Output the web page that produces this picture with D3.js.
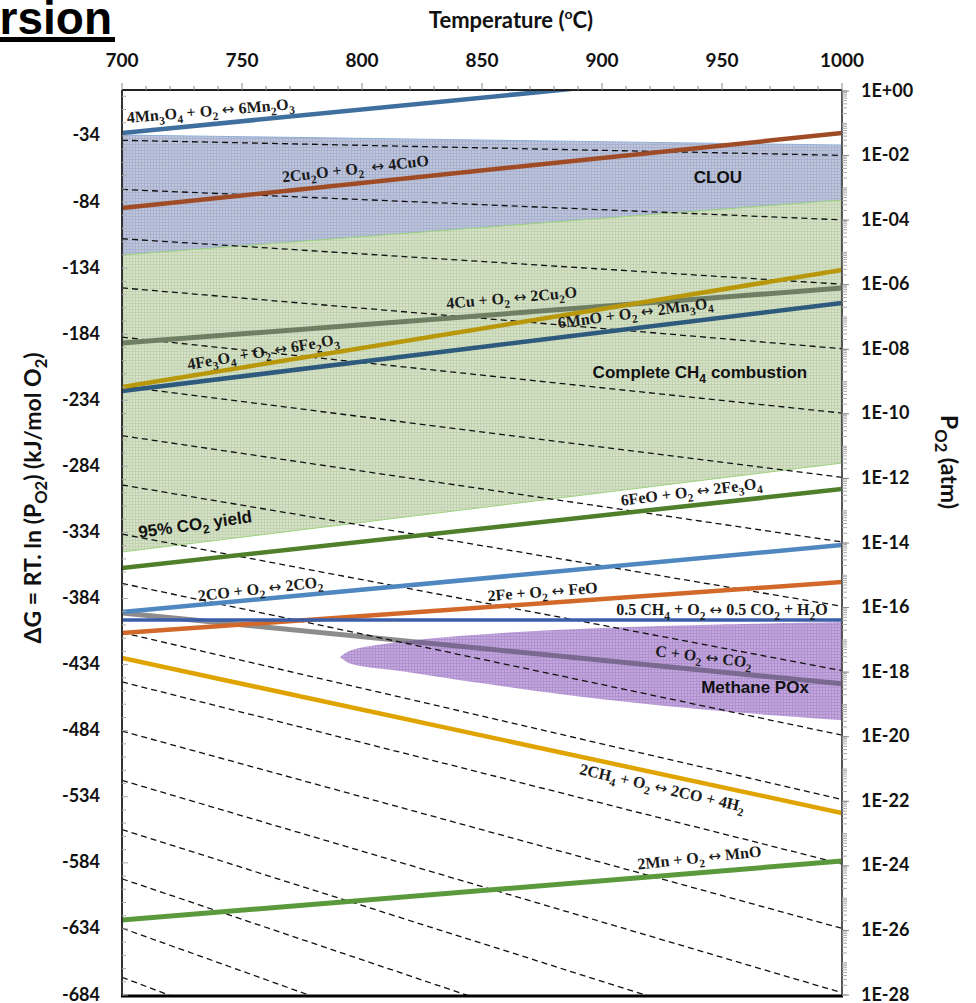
<!DOCTYPE html>
<html><head><meta charset="utf-8">
<script src="https://cdn.jsdelivr.net/npm/d3@7"></script>
<style>body{margin:0;background:#fff}text{white-space:pre}</style>
</head><body><svg id="c" width="976" height="1003"></svg>
<script>
// ---------- DATA ----------
const temps = [700, 1000];
const tempTicks = [700, 750, 800, 850, 900, 950, 1000];
const dGTicks = [-34, -84, -134, -184, -234, -284, -334, -384, -434, -484, -534, -584, -634, -684];
const pO2TickExp = [0, -2, -4, -6, -8, -10, -12, -14, -16, -18, -20, -22, -24, -26, -28];

// iso-P(O2) dashed lines: dG (kJ/mol O2) at 700 and 1000 C
const isobarExp = [-2, -4, -6, -8, -10, -12, -14, -16, -18, -20, -22, -24, -26, -28, -30, -32, -34, -36];
const isobarAt700 = [-37.3, -74.5, -111.8, -149.0, -186.3, -223.5, -260.8, -298.1, -335.3, -372.6, -409.8, -447.1, -484.3, -521.6, -558.8, -596.1, -633.4, -670.6];
const isobarAt1000 = [-48.7, -97.5, -146.2, -195.0, -243.7, -292.4, -341.2, -389.9, -438.6, -487.4, -536.1, -584.8, -633.6, -682.3, -731.1, -779.8, -828.6, -877.3];

// reaction lines: dG at 700 and 1000 C
const reactionNames = [
  "4Mn{3}O{4} + O{2} ↔ 6Mn{2}O{3}",
  "2Cu{2}O + O{2}  ↔ 4CuO",
  "4Cu + O{2} ↔ 2Cu{2}O",
  "6MnO + O{2} ↔ 2Mn{3}O{4}",
  "4Fe{3}O{4} + O{2} ↔ 6Fe{2}O{3}",
  "6FeO + O{2} ↔ 2Fe{3}O{4}",
  "2CO + O{2} ↔ 2CO{2}",
  "2Fe + O{2} ↔ FeO",
  "0.5 CH{4} + O{2} ↔ 0.5 CO{2} + H{2}O",
  "C + O{2} ↔ CO{2}",
  "2CH{4} + O{2} ↔ 2CO + 4H{2}",
  "2Mn + O{2} ↔ MnO"
];
const reactionAt700  = [-31.8, -88.5, -190.7, -227.0, -224.0, -360.9, -394.2, -410.1, -400.3, -394.9, -429.0, -627.3];
const reactionAt1000 = [ 21.7, -31.8, -149.1, -160.4, -135.4, -301.2, -343.5, -371.5, -400.3, -448.6, -546.3, -582.6];

// shaded regions
const clouUpper = [-33.3, -40.9];
const clouLower = [-124.1, -82.5];
const combUpper = [-124.1, -82.5];
const combLower = [-348.8, -281.5];
const poxT     = [790.8, 795, 815.8, 849.2, 899.2, 949.2, 1000];
const poxUpper = [-428.3, -423.5, -416.8, -411.2, -406.4, -403.7, -401.8];
const poxLower = [-428.3, -433.2, -438.9, -448.0, -460.1, -469.2, -476.0];

const regionNames = ["CLOU", "Complete CH{4} combustion", "Methane POx", "95% CO{2} yield"];

// ---------- STYLE / LAYOUT ----------
const reactionColors = ["#3f6f9f", "#9e4b26", "#6f7f63", "#2e5a7e", "#b8970a", "#4f7f2a", "#4f88c0", "#d2692a", "#3b5ea8", "#8c8c8c", "#e0a400", "#5a9a3c"];
const reactionWidths = [4.5, 4.5, 5, 4.5, 4.5, 4.5, 4.5, 4.5, 3.5, 5, 4.5, 5];
const reactionLabelPos = [[737.1, -18.9, -4.8], [797.5, -62.8, -6.5], [862.5, -160.4, -5], [914.2, -171.8, -7.5],
  [759.2, -201.3, -9.5], [937.5, -307.2, -7], [757.9, -380.6, -6.5], [875.4, -382.9, -4.3],
  [950, -396.5, 0], [942.1, -432.0, 7], [924.6, -531.2, 13], [940.8, -584.1, -6]];
const regionLabelPos = [[948.3, -69.6, 0], [940.8, -217.2, 0], [963.75, -455.5, 0], [730.8, -332.2, -8]];

const M = {l: 122, r: 842, t: 90, b: 996};
const svg = d3.select("#c");
const x = d3.scaleLinear().domain([700, 1000]).range([M.l, M.r]);
const y = d3.scaleLinear().domain([-684, 0]).range([995, 91]);
const yP = d3.scaleLog().domain([1e-28, 1]).range([995, 91]);

const defs = svg.append("defs");
defs.append("clipPath").attr("id", "plot").append("rect")
  .attr("x", M.l).attr("y", M.t).attr("width", M.r - M.l).attr("height", M.b - M.t);
function pattern(id, base, line) {
  const p = defs.append("pattern").attr("id", id).attr("patternUnits", "userSpaceOnUse").attr("width", 3).attr("height", 3);
  p.append("rect").attr("width", 3).attr("height", 3).attr("fill", base);
  p.append("path").attr("d", "M0,0.5H3M0.5,0V3").attr("stroke", line).attr("stroke-width", 1);
}
pattern("pBlue", "#c0c7dd", "#a8b1ce");
pattern("pGreen", "#d7e3c9", "#c3d3b1");
pattern("pPurple", "#c4a8dd", "#b091d0");

function rich(sel, str, size) {
  const parts = str.split(/(\{[^}]*\}|↔)/).filter(s => s.length);
  let sub = false;
  parts.forEach(p => {
    if (p[0] === "{") {
      sel.append("tspan").text(p.slice(1, -1)).attr("font-size", size * 0.72).attr("dy", size * 0.28);
      sub = true;
    } else {
      const t = sel.append("tspan").text(p).attr("dy", sub ? -size * 0.28 : 0);
      if (p === "↔") t.attr("font-family", "DejaVu Sans, sans-serif").attr("font-weight", "normal").attr("font-size", size * 0.95);
      sub = false;
    }
  });
}

const g = svg.append("g").attr("clip-path", "url(#plot)");

// regions
const band = (up, lo) => d3.area().x((d, i) => x(temps[i])).y0((d, i) => y(lo[i])).y1((d, i) => y(up[i]))(temps);
g.append("path").attr("d", band(clouUpper, clouLower)).attr("fill", "url(#pBlue)").attr("stroke", "#8fb0d8").attr("stroke-width", 1);
g.append("path").attr("d", band(combUpper, combLower)).attr("fill", "url(#pGreen)").attr("stroke", "#9ed27e").attr("stroke-width", 1);

const seg = (a, b) => d3.line()([[x(temps[0]), y(a)], [x(temps[1]), y(b)]]);

// C + O2 line below the POx fill
const cIdx = 9;
g.append("path").attr("d", seg(reactionAt700[cIdx], reactionAt1000[cIdx]))
  .attr("stroke", reactionColors[cIdx]).attr("stroke-width", reactionWidths[cIdx]).attr("fill", "none");

// POx region
const poxArea = d3.area().curve(d3.curveCatmullRom)
  .x((d, i) => x(poxT[i])).y0((d, i) => y(poxLower[i])).y1((d, i) => y(poxUpper[i]));
const poxD = poxArea(poxT);
defs.append("clipPath").attr("id", "poxClip").append("path").attr("d", poxD);
g.append("path").attr("d", poxD).attr("fill", "url(#pPurple)");
g.append("path").attr("d", seg(reactionAt700[cIdx], reactionAt1000[cIdx])).attr("clip-path", "url(#poxClip)")
  .attr("stroke", "#7a6a92").attr("stroke-width", reactionWidths[cIdx]).attr("fill", "none");

// isobars
isobarExp.forEach((e, i) => {
  g.append("path").attr("d", seg(isobarAt700[i], isobarAt1000[i]))
    .attr("stroke", "#111").attr("stroke-width", 1.3).attr("stroke-dasharray", "6,4").attr("fill", "none");
});

// reaction lines
reactionNames.forEach((n, i) => {
  if (i === cIdx) return;
  g.append("path").attr("d", seg(reactionAt700[i], reactionAt1000[i]))
    .attr("stroke", reactionColors[i]).attr("stroke-width", reactionWidths[i]).attr("fill", "none");
});

// reaction labels
reactionNames.forEach((n, i) => {
  const [t, v, a] = reactionLabelPos[i];
  const tx = svg.append("text").attr("transform", `translate(${x(t)},${y(v)}) rotate(${a})`)
    .attr("text-anchor", "middle").attr("font-family", "Liberation Serif, serif").attr("font-weight", "bold")
    .attr("font-size", 16).attr("fill", "#1a1a1a");
  rich(tx, n, 16);
});

// region labels
regionNames.forEach((n, i) => {
  const [t, v, a] = regionLabelPos[i];
  const tx = svg.append("text").attr("transform", `translate(${x(t)},${y(v)}) rotate(${a})`)
    .attr("text-anchor", "middle").attr("dy", 6).attr("font-family", "Liberation Sans, Arial, sans-serif").attr("font-weight", "bold")
    .attr("font-size", 17).attr("fill", "#111");
  rich(tx, n, 17);
});

// plot border
svg.append("line").attr("x1", M.l).attr("x2", M.r).attr("y1", M.t).attr("y2", M.t).attr("stroke", "#222").attr("stroke-width", 2);
svg.append("line").attr("x1", M.l).attr("x2", M.l).attr("y1", M.t).attr("y2", M.b).attr("stroke", "#333").attr("stroke-width", 2);
svg.append("line").attr("x1", M.r).attr("x2", M.r).attr("y1", M.t).attr("y2", M.b).attr("stroke", "#555").attr("stroke-width", 2);
svg.append("line").attr("x1", M.l - 1).attr("x2", M.r + 1).attr("y1", M.b).attr("y2", M.b).attr("stroke", "#000").attr("stroke-width", 3);

const fontAxis = "Lato, 'Open Sans', sans-serif";

// top axis
const minorT = d3.range(700, 1001, 10);
svg.append("g").selectAll("line").data(minorT).join("line")
  .attr("x1", d => x(d)).attr("x2", d => x(d)).attr("y1", M.t).attr("y2", d => M.t - (d % 50 === 0 ? 7 : 4))
  .attr("stroke", "#888").attr("stroke-width", 1);
svg.append("g").selectAll("text").data(tempTicks).join("text")
  .attr("x", d => x(d)).attr("y", 67).attr("text-anchor", "middle")
  .attr("font-family", fontAxis).attr("font-weight", "bold").attr("font-size", 19).attr("fill", "#111").text(d => d);
const tt = svg.append("text").attr("x", 511).attr("y", 28).attr("text-anchor", "middle")
  .attr("font-family", fontAxis).attr("font-weight", "bold").attr("font-size", 22).attr("fill", "#111");
tt.append("tspan").text("Temperature (");
tt.append("tspan").text("o").attr("font-size", 14).attr("dy", -9);
tt.append("tspan").text("C)").attr("dy", 9);

// left axis
const minorG = d3.range(-684, 1, 10);
svg.append("g").selectAll("line").data(minorG).join("line")
  .attr("x1", M.l).attr("x2", (d, i) => M.l + ((d + 684) % 50 === 0 ? 6 : 4)).attr("y1", d => y(d)).attr("y2", d => y(d))
  .attr("stroke", "#aaa").attr("stroke-width", 1);
svg.append("g").selectAll("text").data(dGTicks).join("text")
  .attr("x", 100).attr("y", d => y(d)).attr("dy", 5.5).attr("text-anchor", "end")
  .attr("font-family", fontAxis).attr("font-weight", "bold").attr("font-size", 18).attr("fill", "#111").text(d => d);
const lt = svg.append("text").attr("transform", "translate(41,498) rotate(-90)").attr("text-anchor", "middle")
  .attr("font-family", fontAxis).attr("font-weight", "bold").attr("font-size", 23).attr("fill", "#111");
rich(lt, "ΔG = RT. ln (P{O2}) (kJ/mol O{2})", 23);

// right axis (log)
const minorP = [];
for (let e = 0; e >= -28; e--) for (let k = 1; k <= 9; k++) { const v = k * Math.pow(10, e - 1); if (v >= 1e-28 && v <= 1) minorP.push(v); }
minorP.push(1);
svg.append("g").selectAll("line").data(minorP).join("line")
  .attr("x1", M.r).attr("x2", M.r + 5).attr("y1", d => yP(d)).attr("y2", d => yP(d))
  .attr("stroke", "#aaa").attr("stroke-width", 1);
svg.append("g").selectAll("line.maj").data(pO2TickExp).join("line")
  .attr("x1", M.r).attr("x2", M.r + 7).attr("y1", d => yP(Math.pow(10, d))).attr("y2", d => yP(Math.pow(10, d)))
  .attr("stroke", "#888").attr("stroke-width", 1);
const fmtE = e => "1E" + (e >= 0 ? "+" : "-") + String(Math.abs(e)).padStart(2, "0");
svg.append("g").selectAll("text").data(pO2TickExp).join("text")
  .attr("x", 861).attr("y", d => yP(Math.pow(10, d))).attr("dy", 5.5)
  .attr("font-family", fontAxis).attr("font-weight", "bold").attr("font-size", 18).attr("fill", "#111").text(fmtE);
const rt = svg.append("text").attr("transform", "translate(941,462) rotate(90)").attr("text-anchor", "middle")
  .attr("font-family", fontAxis).attr("font-weight", "bold").attr("font-size", 23).attr("fill", "#111");
rich(rt, "P{O2} (atm)", 23);

// slide title fragment
svg.append("text").attr("x", 112).attr("y", 34).attr("text-anchor", "end")
  .attr("font-family", "Liberation Sans, Arial, sans-serif").attr("font-weight", "bold").attr("font-size", 46).attr("fill", "#000").text("rsion");
svg.append("rect").attr("x", 0).attr("y", 37).attr("width", 115).attr("height", 5).attr("fill", "#000");
</script></body></html>
